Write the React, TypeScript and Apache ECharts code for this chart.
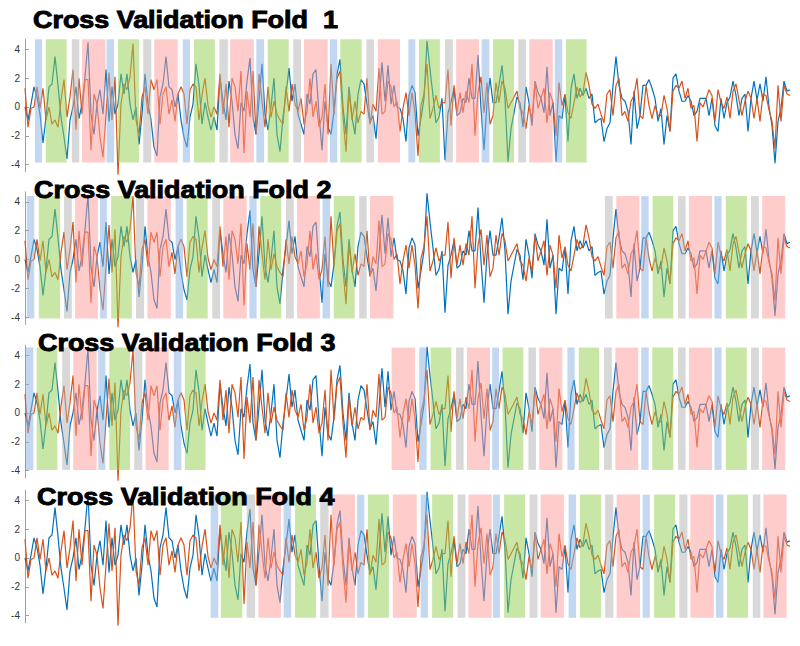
import React, { useEffect, useRef } from 'react';
import * as echarts from 'echarts';

// Signal samples (same recording shown in every fold)
const blueSignal = [
  0, -0.9, 0.2, 1.4, 0.7, -0.5, -2.5, -0.7, 1.4, 1.6,
  3.5, 1.5, -0.7, -2.1, -3.6, -0.9, 0, 1.4, -0.8, 0.2,
  2.1, 4.5, -0.5, -1.9, 0.2, 1.2, -0.5, 2.6, -1.0, 1.4,
  -0.5, 0.2, 2.3, 0.9, 2.3, 0.2, -0.9, 0, -2.6, -0.5,
  2.3, 0.2, -0.9, -2.8, -3.4, 0.7, 1.6, 3.5, 1.4, 1.2,
  0, 0.9, -0.9, -2.1, -2.8, -0.7, 0.2, 3.0, 1.5, -1.2,
  0.3, -0.7, -1.6, -0.7,
  -1.6, 2.0, 0.4, -0.9, 1.8, 0.4, -1.9, -2.9, 0.3,
  -0.3, 1.8, 3.4, -0.7, -1.9, 0.4, 3.0,
  -0.5, -1.6, 0, 2.0, -1.9, -3.1, -0.7, 0.9, 2.7, 0.4,
  1.6, -0.5, -1.2, -1.9, 0.9, 0.2, 2.3, 2.6, -0.5, -3.0,
  0.4, -1.4, -1.9, -0.3, 2.3, 3.3, 0, -1.9, 1.4, -0.7,
  -1.9, 0.9, 1.9, 1.6, 0.2, -1.1, -0.6, -2.2, 0.4, 3.1,
  0.4, 2.9, 0.2, 1.5, 0,
  -0.1, -0.8, -2.4, 0.8, 1.5, 1.0, -2.0, -0.8, 0.6, 4.6,
  2.6, 0.8, -1.1, -0.7, 0.6, -3.7, -0.4, 0.3, 1.3, -0.6,
  -0.4, 0.6, 0.3, 2.0, 0.6, 0.6, 3.6, -0.1, -3.0, 0.3,
  2.0, 0.3, 0.3, 1.5, 2.9, 0.6, -3.8, -1.5, -0.4, 0.7,
  0.3, -1.4, 1.4, 0.3, -1.3, 1.8, 1.0, 0.6, -0.4, 2.8,
  -0.6, 0.3, -3.8, -0.6, -0.8, 0.8, -2.4, 1.3, 2.3, 0.6,
  1.3, 0.8, 1.3, 0.6, 0.9, -1.1, -0.9, -0.8, -2.4, -1.5,
  -1.1, 1.5, 3.5, 1.5, 0.6, 0.4, -0.3, -2.6, 1.1, -1.5,
  -0.6, 1.5, 1.5, 1.9, 1.3, 0.6, -1.0, -0.1, -2.6, -0.6,
  -1.7, 2.0, 2.3, 1.1, 0.4, 0.4, 0.8, 0.4, -0.6, -0.3,
  0.6, 0.6, 0.6, -0.6, 0.6, -1.3, -1.7, 0.6, -0.8, 0.3,
  0.7, 1.8, 0.8, -0.6, 0.6, 0.9, -1.7, 0.6, 1.8, 0.5,
  1.6, 0.4, 2.1, 0, -1.3, -3.9, -1.0, -0.1, 1.8, 1.1, 1.2,
];

const orangeSignal = [
  1.3, -1.4, -0.1, 0, 1.4, -0.1, 1.3, -0.9, 0, -1.2,
  -0.9, -1.4, 0.5, 1.9, -0.7, 0.7, 2.6, -1.6, 2.0, -0.5,
  1.9, 1.9, -3.0, 0.9, 0.2, -2.1, -3.5, -0.5, 2.4, -0.9,
  2.1, -4.7, 0.2, 1.6, 1.2, 2.1, 4.4, -0.9, -1.9, 0.7,
  1.4, -0.5, 1.9, 1.2, 1.9, -1.2, 0.9, 1.4, -0.5, 0.5,
  -1.0, 0.9, 1.4, 0.9, -1.2, 1.2, 1.6, 1.4, -0.9, 0.8,
  2.0, 0.1, -0.7, 0,
  -0.5, 2.3, -0.5, 1.6, -1.4, 2.0, 1.4, -0.3, 2.5, -3.2,
  1.1, -0.7, 2.5, -1.9, 2.3, 0.4, -1.4, 1.4, -0.7, 0.4,
  -0.5, -0.9, -1.2, 1.4, -0.3, 1.6, 0.2, -0.3, 0.6, -1.2,
  -0.3, 2.0, -0.7, 0.4, -1.4, -0.7, 1.6, -1.9, 3.0, -0.5,
  2.0, 2.5, -0.7, -3.1, 1.1, -0.9, 0.4, -1.1, -0.3, -0.5,
  2.0, -1.2, 0.2, -0.3, 2.7, -0.5, -0.3, 1.8, 1.4, 0, 0.4,
  -1.7, -0.1, 1.0, -0.6, 1.0, -0.4, -3.4, 0.1, 0.9, 3.0,
  -0.8, -0.1, 0.8, -0.1, 0.3, 0.3, 2.6, -1.3, 1.5, -0.4,
  1.0, -0.4, 1.1, 0.3, 3.0, -2.0, 1.0, 2.1, -0.4, 1.7,
  -1.2, -0.6, 1.7, 0.3, 1.8, 1.3, -0.1, 0.3, 0.7, 1.1,
  -0.1, -0.4, -1.5, 0.1, -0.8, 1.7, -0.1, 0.6, 1.3, -1.1,
  1.0, 0.3, -2.0, 1.7, 0.1, 0.9, -0.4, -0.8, 0.3, 1.4,
  0.7, 1.0, 2.4, 1.5, 0.2, -0.1, 0.2, -0.5, -1.1, 0.9,
  1.2, -0.6, 1.5, 2.0, -0.6, -0.3, -1.0, 0.4, 0.8, 2.0,
  -0.6, -0.8, 1.5, 0.1, -0.8, 0.1, -0.6, -0.6, 0.8, -0.1,
  -1.7, 1.1, 1.5, 1.3, 1.8, 0.6, 1.3, -0.1, 0.1, -2.4,
  0.3, 0, 0.6, 1.2, 0.8, -1.0, 1.2, 0.3, -0.1, 0.7,
  -0.8, 1.1, 1.6, 0.5, -0.6, 0.4, 1.1, 0.6, -0.8, 0.6,
  -1.0, 0.9, 0.8, -0.2, -1.0, -2.9, 1.5, -1.0, 1.5, 0.9, 0.8,
];

const foldTitles = [
  'Cross Validation Fold  1',
  'Cross Validation Fold 2',
  'Cross Validation Fold 3',
  'Cross Validation Fold 4',
];

const yTickValues = [-4, -2, 0, 2, 4];

// Trial segments [start sample, end sample, class] ; class 0 blue, 1 green, 2 gray, 3 pink
const fold1Segments = [
  [3.3, 5.7, 0], [6.9, 13.9, 1], [15.6, 18.1, 2], [19, 26.8, 3],
  [27.2, 29.7, 0], [31, 38, 1], [39.4, 42.1, 2], [43.1, 50.9, 3],
  [52.6, 55, 0], [56.3, 63.3, 1], [64.8, 67.6, 2], [68.4, 76.3, 3],
  [77.1, 79.7, 0], [80.9, 87.9, 1], [89.4, 92, 2], [93, 100.9, 3],
  [101.6, 104.1, 0], [105.1, 112.2, 1], [113.8, 116.3, 2], [117.6, 125, 3],
  [127.8, 130.1, 0], [131.3, 138.3, 1], [140, 142.6, 2], [143.7, 151.3, 3],
  [152.2, 154.8, 0], [156, 163, 1], [164.4, 167, 2], [168.1, 175.9, 3],
  [176.6, 179.1, 0], [180.3, 187.2, 1],
];

const fold2Segments = [
  [0.6, 3.1, 0], [4.6, 11.7, 1], [13, 15.6, 2], [16.7, 24.3, 3],
  [25, 27.3, 0], [28.7, 35.6, 1], [37, 39.7, 2], [40.8, 48.6, 3],
  [50.2, 52.7, 0], [53.9, 60.9, 1], [62.4, 65, 2], [66.1, 73.9, 3],
  [74.8, 77.2, 0], [78.4, 85.4, 1], [87, 89.6, 2], [90.7, 98.3, 3],
  [99.2, 101.7, 0], [102.9, 109.9, 1], [111.4, 113.9, 2], [115, 122.8, 3],
  [193.3, 195.9, 2], [197.1, 204.8, 3],
  [205.4, 207.9, 0], [209.2, 216.1, 1], [217.7, 220.2, 2], [221.3, 229, 3],
  [229.8, 232.2, 0], [233.6, 240.6, 1], [242, 244.6, 2], [245.7, 253.4, 3],
];

const fold3Segments = [
  [0.3, 2.8, 0], [3.9, 10.8, 1], [12.4, 15, 2], [16.1, 23.9, 3],
  [24.4, 26.8, 0], [28.1, 35, 1], [36.4, 39.1, 2], [40.2, 47.9, 3],
  [49.6, 52.1, 0], [53.3, 60.2, 1],
  [122.2, 130, 3],
  [131.4, 133.9, 0], [135.2, 142.1, 1], [143.7, 146.2, 2], [147.3, 155, 3],
  [155.7, 158, 0], [159.2, 166.1, 1], [167.8, 170.3, 2], [171.4, 179.1, 3],
  [180.8, 183.2, 0], [184.6, 191.4, 1], [193, 195.6, 2], [196.8, 204.4, 3],
  [205.4, 207.9, 0], [209.1, 216.1, 1], [217.7, 220.2, 2], [221.3, 229, 3],
  [229.8, 232.2, 0], [233.6, 240.6, 1], [242, 244.6, 2], [245.7, 253.4, 3],
];

const fold4Segments = [
  [61.9, 64.4, 0], [65.3, 72.4, 1], [73.9, 76.7, 2], [77.8, 85.3, 3],
  [86.2, 88.7, 0], [90, 97, 1], [98.4, 101.2, 2], [102.2, 110, 3],
  [110.7, 113.1, 0], [114.3, 121.3, 1], [122.6, 130.6, 3],
  [131.9, 134.3, 0], [135.7, 142.7, 1], [144.2, 146.8, 2], [147.8, 155.6, 3],
  [156, 158.3, 0], [159.7, 166.7, 1], [168.2, 170.8, 2], [171.9, 179.7, 3],
  [181.2, 183.7, 0], [185, 192, 1], [193.4, 196.1, 2], [197.2, 205, 3],
  [205.9, 208.3, 0], [209.7, 216.7, 1], [218.1, 220.8, 2], [221.8, 229.6, 3],
  [230.3, 232.8, 0], [234, 241, 1], [242.6, 245.1, 2], [246.1, 253.9, 3],
];

const foldSegments = [fold1Segments, fold2Segments, fold3Segments, fold4Segments];

// styling / layout
const SEGMENT_COLORS = [
  'rgba(140,180,226,0.52)',
  'rgba(146,208,80,0.5)',
  'rgba(178,178,178,0.5)',
  'rgba(255,153,153,0.5)',
];
const SEGMENT_EXTENTS = [[-3.85, 4.7], [-4.1, 4.4], [-3.95, 4.55], [-4.15, 4.4]];
const GRID_TOPS = [39.3, 191.8, 345.3, 490.3];
const GRID_HEIGHT = 132.5;
const TITLE_POS = [[33, 8.5], [34, 178], [38, 331.5], [37, 485]];

export default function App() {
  const ref = useRef<HTMLDivElement>(null);

  useEffect(() => {
    if (!ref.current) return;
    const chart = echarts.init(ref.current, undefined, { renderer: 'svg' });
    const N = blueSignal.length;
    const bluePts = blueSignal.map((v, i) => [i, v]);
    const orangePts = orangeSignal.map((v, i) => [i, v]);

    const grid: any[] = [];
    const xAxis: any[] = [];
    const yAxis: any[] = [];
    const series: any[] = [];

    for (let k = 0; k < 4; k++) {
      grid.push({ left: 25, right: 10, top: GRID_TOPS[k], height: GRID_HEIGHT });
      xAxis.push({ gridIndex: k, type: 'value', min: 0, max: N - 1, show: false });
      yAxis.push({
        gridIndex: k,
        type: 'value',
        min: -4.5,
        max: 4.7,
        splitLine: { show: false },
        axisLine: { show: true, lineStyle: { color: '#a0a0a0', width: 1 } },
        axisTick: {
          show: true,
          inside: true,
          length: 4,
          customValues: yTickValues,
          lineStyle: { color: '#a0a0a0' },
        },
        axisLabel: {
          customValues: yTickValues,
          fontSize: 10,
          color: '#333',
          margin: 5,
          fontFamily: '"Liberation Sans", Arial, sans-serif',
        },
      });
      series.push({
        type: 'line',
        xAxisIndex: k,
        yAxisIndex: k,
        data: bluePts,
        showSymbol: false,
        symbol: 'none',
        clip: false,
        lineStyle: { color: '#0072BD', width: 1.2 },
        z: 2,
      });
      series.push({
        type: 'line',
        xAxisIndex: k,
        yAxisIndex: k,
        data: orangePts,
        showSymbol: false,
        symbol: 'none',
        clip: false,
        lineStyle: { color: '#D95319', width: 1.2 },
        z: 3,
      });
      const ext = SEGMENT_EXTENTS[k];
      series.push({
        type: 'custom',
        xAxisIndex: k,
        yAxisIndex: k,
        z: 5,
        encode: { x: [0, 1], y: [3, 4] },
        data: foldSegments[k].map((s) => [s[0], s[1], s[2], ext[0], ext[1]]),
        renderItem: (params: any, api: any) => {
          const a = api.coord([api.value(0), api.value(4)]);
          const b = api.coord([api.value(1), api.value(3)]);
          return {
            type: 'rect',
            shape: { x: a[0], y: a[1], width: b[0] - a[0], height: b[1] - a[1] },
            style: { fill: SEGMENT_COLORS[api.value(2)] },
          };
        },
      });
    }

    const graphic = foldTitles.map((t, k) => ({
      type: 'text',
      x: TITLE_POS[k][0],
      y: TITLE_POS[k][1],
      scaleX: 1.17,
      z: 100,
      style: {
        text: t,
        font: 'bold 23px "Liberation Sans", Arial, sans-serif',
        fill: '#000',
        stroke: '#000',
        lineWidth: 0.9,
        verticalAlign: 'top',
      },
    }));

    chart.setOption({
      animation: false,
      backgroundColor: '#fff',
      grid,
      xAxis,
      yAxis,
      series,
      graphic,
    });
    return () => chart.dispose();
  }, []);

  return (
    <div
      ref={ref}
      style={{ position: 'absolute', left: 0, top: 0, width: 800, height: 646 }}
    />
  );
}
